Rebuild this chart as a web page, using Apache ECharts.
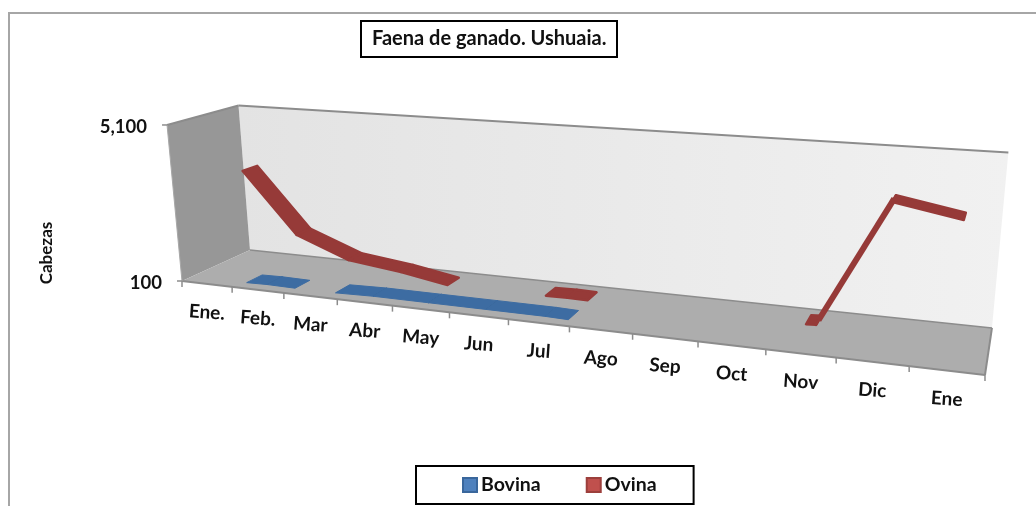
<!DOCTYPE html>
<html><head><meta charset="utf-8">
<style>html,body{margin:0;padding:0;background:#fff}#c{width:1036px;height:506px}</style>
<script src="https://cdn.jsdelivr.net/npm/echarts@6/dist/echarts.min.js"></script>
</head><body><div id="c"></div>
<script>
const categories = ['Ene.','Feb.','Mar','Abr','May','Jun','Jul','Ago','Sep','Oct','Nov','Dic','Ene'];
const bovina = [78,115,87,130,126,124,120,67,0,0,0,0,0];
const ovina  = [3230,1250,580,365,57,75,115,71,0,15,115,3830,3490];
const yTicks = [100,5100];
const FONT = 'Lato, "Open Sans", sans-serif';
const LINE = '#8c8c8c';

// perspective of the 3D box: u along categories, v up the value axis, d into depth (all 0..1)
function project(u,v,d){
  const w = 1 - 0.2008*u + 0.0841*d - 0.035*v;
  return [(605.2*u + 89*d + 182 - 20.8*v)/w, (18.7*u - 10*d + 281 - 160.4*v)/w];
}
function unit(p,cs){ return [(p[0]-cs.x)/cs.width, (cs.y+cs.height-p[1])/cs.height]; }
function poly(points,fill,stroke,w){ return {type:'polygon',shape:{points},style:{fill,stroke:stroke||null,lineWidth:w||0,lineJoin:'round'}}; }
function line(a,b,w,c){ return {type:'line',shape:{x1:a[0],y1:a[1],x2:b[0],y2:b[1]},style:{stroke:c||LINE,lineWidth:w||2}}; }
function text(s,x,y,size,rot,align){
  return {type:'text',x,y,rotation:rot||0,style:{text:s,x:0,y:0,align:align||'center',verticalAlign:'middle',
    font:'bold '+size+'px '+FONT,fill:'#111'}};
}

function renderBox(params,api){
  const n = categories.length, kids = [];
  kids.push(poly([project(0,0,1),project(1,0,1),project(1,1,1),project(0,1,1)],
    new echarts.graphic.LinearGradient(0,0,1,0,[{offset:0,color:'#e3e3e3'},{offset:1,color:'#f1f1f1'}])));
  kids.push(poly([project(0,0,0),project(0,0,1),project(0,1,1),project(0,1,0)],'#979797'));
  kids.push(poly([project(0,0,0),project(1,0,0),project(1,0,1),project(0,0,1)],'#adadad'));
  kids.push(line(project(0,1,0),project(0,1,1)));
  kids.push(line(project(0,1,1),project(1,1,1)));
  kids.push(line(project(0,0,1),project(1,0,1),1.5));
  kids.push(line(project(0,0,0),project(1,0,0)));
  kids.push(line(project(1,0,0),project(1,0,1)));
  kids.push(line(project(0,0,0),project(0,1,0),1,'#a8a8a8'));
  for(let i=0;i<=n;i++){
    const a = project(i/n,0,0);
    kids.push(line(a,[a[0],a[1]+6],1.5));
  }
  return {type:'group',children:kids};
}

function renderLabels(params,api){
  const cs = params.coordSys, kids = [];
  categories.forEach((c,i)=>{
    const p = unit(api.coord([i,yTicks[0]]),cs);
    const a = project(p[0],0,0);
    kids.push(text(c,a[0],a[1]+28.5,19,-0.07));
  });
  yTicks.forEach(t=>{
    const p = unit(api.coord([0,t]),cs);
    const a = project(0,p[1],0);
    kids.push(line([a[0]-5,a[1]],a,1.5));
    kids.push(text(t.toLocaleString('en-US'),a[0]-20,a[1]+2,18.5,0,'right'));
  });
  return {type:'group',children:kids};
}

// a ribbon between two neighbouring points, clipped at the axis minimum (the floor)
function ribbon(values,d0,d1,fill,edge,strokeW){
  return function(params,api){
    const i = params.dataIndex, cs = params.coordSys;
    if(i>=values.length-1) return {type:'group',children:[]};
    const a = unit(api.coord([i,values[i]]),cs), b = unit(api.coord([i+1,values[i+1]]),cs);
    if(a[1]<=0 && b[1]<=0) return {type:'group',children:[]};
    let p=a.slice(), q=b.slice();
    if(p[1]<0){ const t=a[1]/(a[1]-b[1]); p=[a[0]+(b[0]-a[0])*t,0]; }
    if(q[1]<0){ const t=a[1]/(a[1]-b[1]); q=[a[0]+(b[0]-a[0])*t,0]; }
    const dm=(d0+d1)/2, kids=[];
    const s=project(p[0],p[1],dm), e=project(q[0],q[1],dm);
    const f=project(q[0],q[1],d0), g=project(q[0],q[1],d1);
    const len=Math.hypot(e[0]-s[0],e[1]-s[1])||1;
    const across=Math.abs((g[0]-f[0])*(e[1]-s[1])-(g[1]-f[1])*(e[0]-s[0]))/len;
    if(across<6) kids.push(line(s,e,6,fill));
    kids.push(poly([project(p[0],p[1],d0),project(q[0],q[1],d0),g,project(p[0],p[1],d1)],fill,fill,strokeW));
    if(b[1]>0 && i<values.length-2) kids.push(line(f,g,1,edge));
    return {type:'group',children:kids};
  };
}

const chart = echarts.init(document.getElementById('c'));
chart.setOption({
  animation:false,
  backgroundColor:'#fff',
  title:{text:'Faena de ganado. Ushuaia.',left:361,top:21,padding:[8,11,8,11],borderColor:'#000',borderWidth:2,
    textStyle:{fontFamily:FONT,fontWeight:'bold',fontSize:20,color:'#111',lineHeight:20}},
  legend:{data:['Bovina','Ovina'],left:416,top:466,orient:'horizontal',padding:[9,37,9,46],itemGap:45,
    itemWidth:14,itemHeight:14,borderColor:'#000',borderWidth:2,icon:'rect',selectedMode:false,
    textStyle:{fontFamily:FONT,fontWeight:'bold',fontSize:19.5,color:'#111',padding:[0,0,0,-1]}},
  grid:{left:167,top:125,width:818,height:156},
  xAxis:{type:'category',data:categories,show:false},
  yAxis:{type:'value',min:yTicks[0],max:yTicks[1],interval:5000,show:false},
  graphic:[
    {type:'polyline',shape:{points:[[9,506],[9,13],[1036,13]]},style:{stroke:'#a6a6a6',fill:null,lineWidth:2}},
    {type:'text',x:47,y:253,rotation:Math.PI/2,style:{text:'Cabezas',align:'center',verticalAlign:'middle',
      font:'bold 17px '+FONT,fill:'#111'}}
  ],
  series:[
    {name:'box',type:'custom',renderItem:renderBox,data:[[0,100]],silent:true,z:1},
    {name:'Bovina',type:'custom',renderItem:ribbon(bovina,0.14,0.37,'#3d6ca2','#356093',1),
     data:bovina.map((v,i)=>[i,v]),itemStyle:{color:'#4f81bd',borderColor:'#3a679c',borderWidth:1},z:2},
    {name:'Ovina',type:'custom',renderItem:ribbon(ovina,0.63,0.85,'#963a38','#80302e',2.5),
     data:ovina.map((v,i)=>[i,v]),itemStyle:{color:'#c0504d',borderColor:'#9c3f3c',borderWidth:1},z:3},
    {name:'labels',type:'custom',renderItem:renderLabels,data:[[0,100]],silent:true,z:4}
  ]
});
</script></body></html>
